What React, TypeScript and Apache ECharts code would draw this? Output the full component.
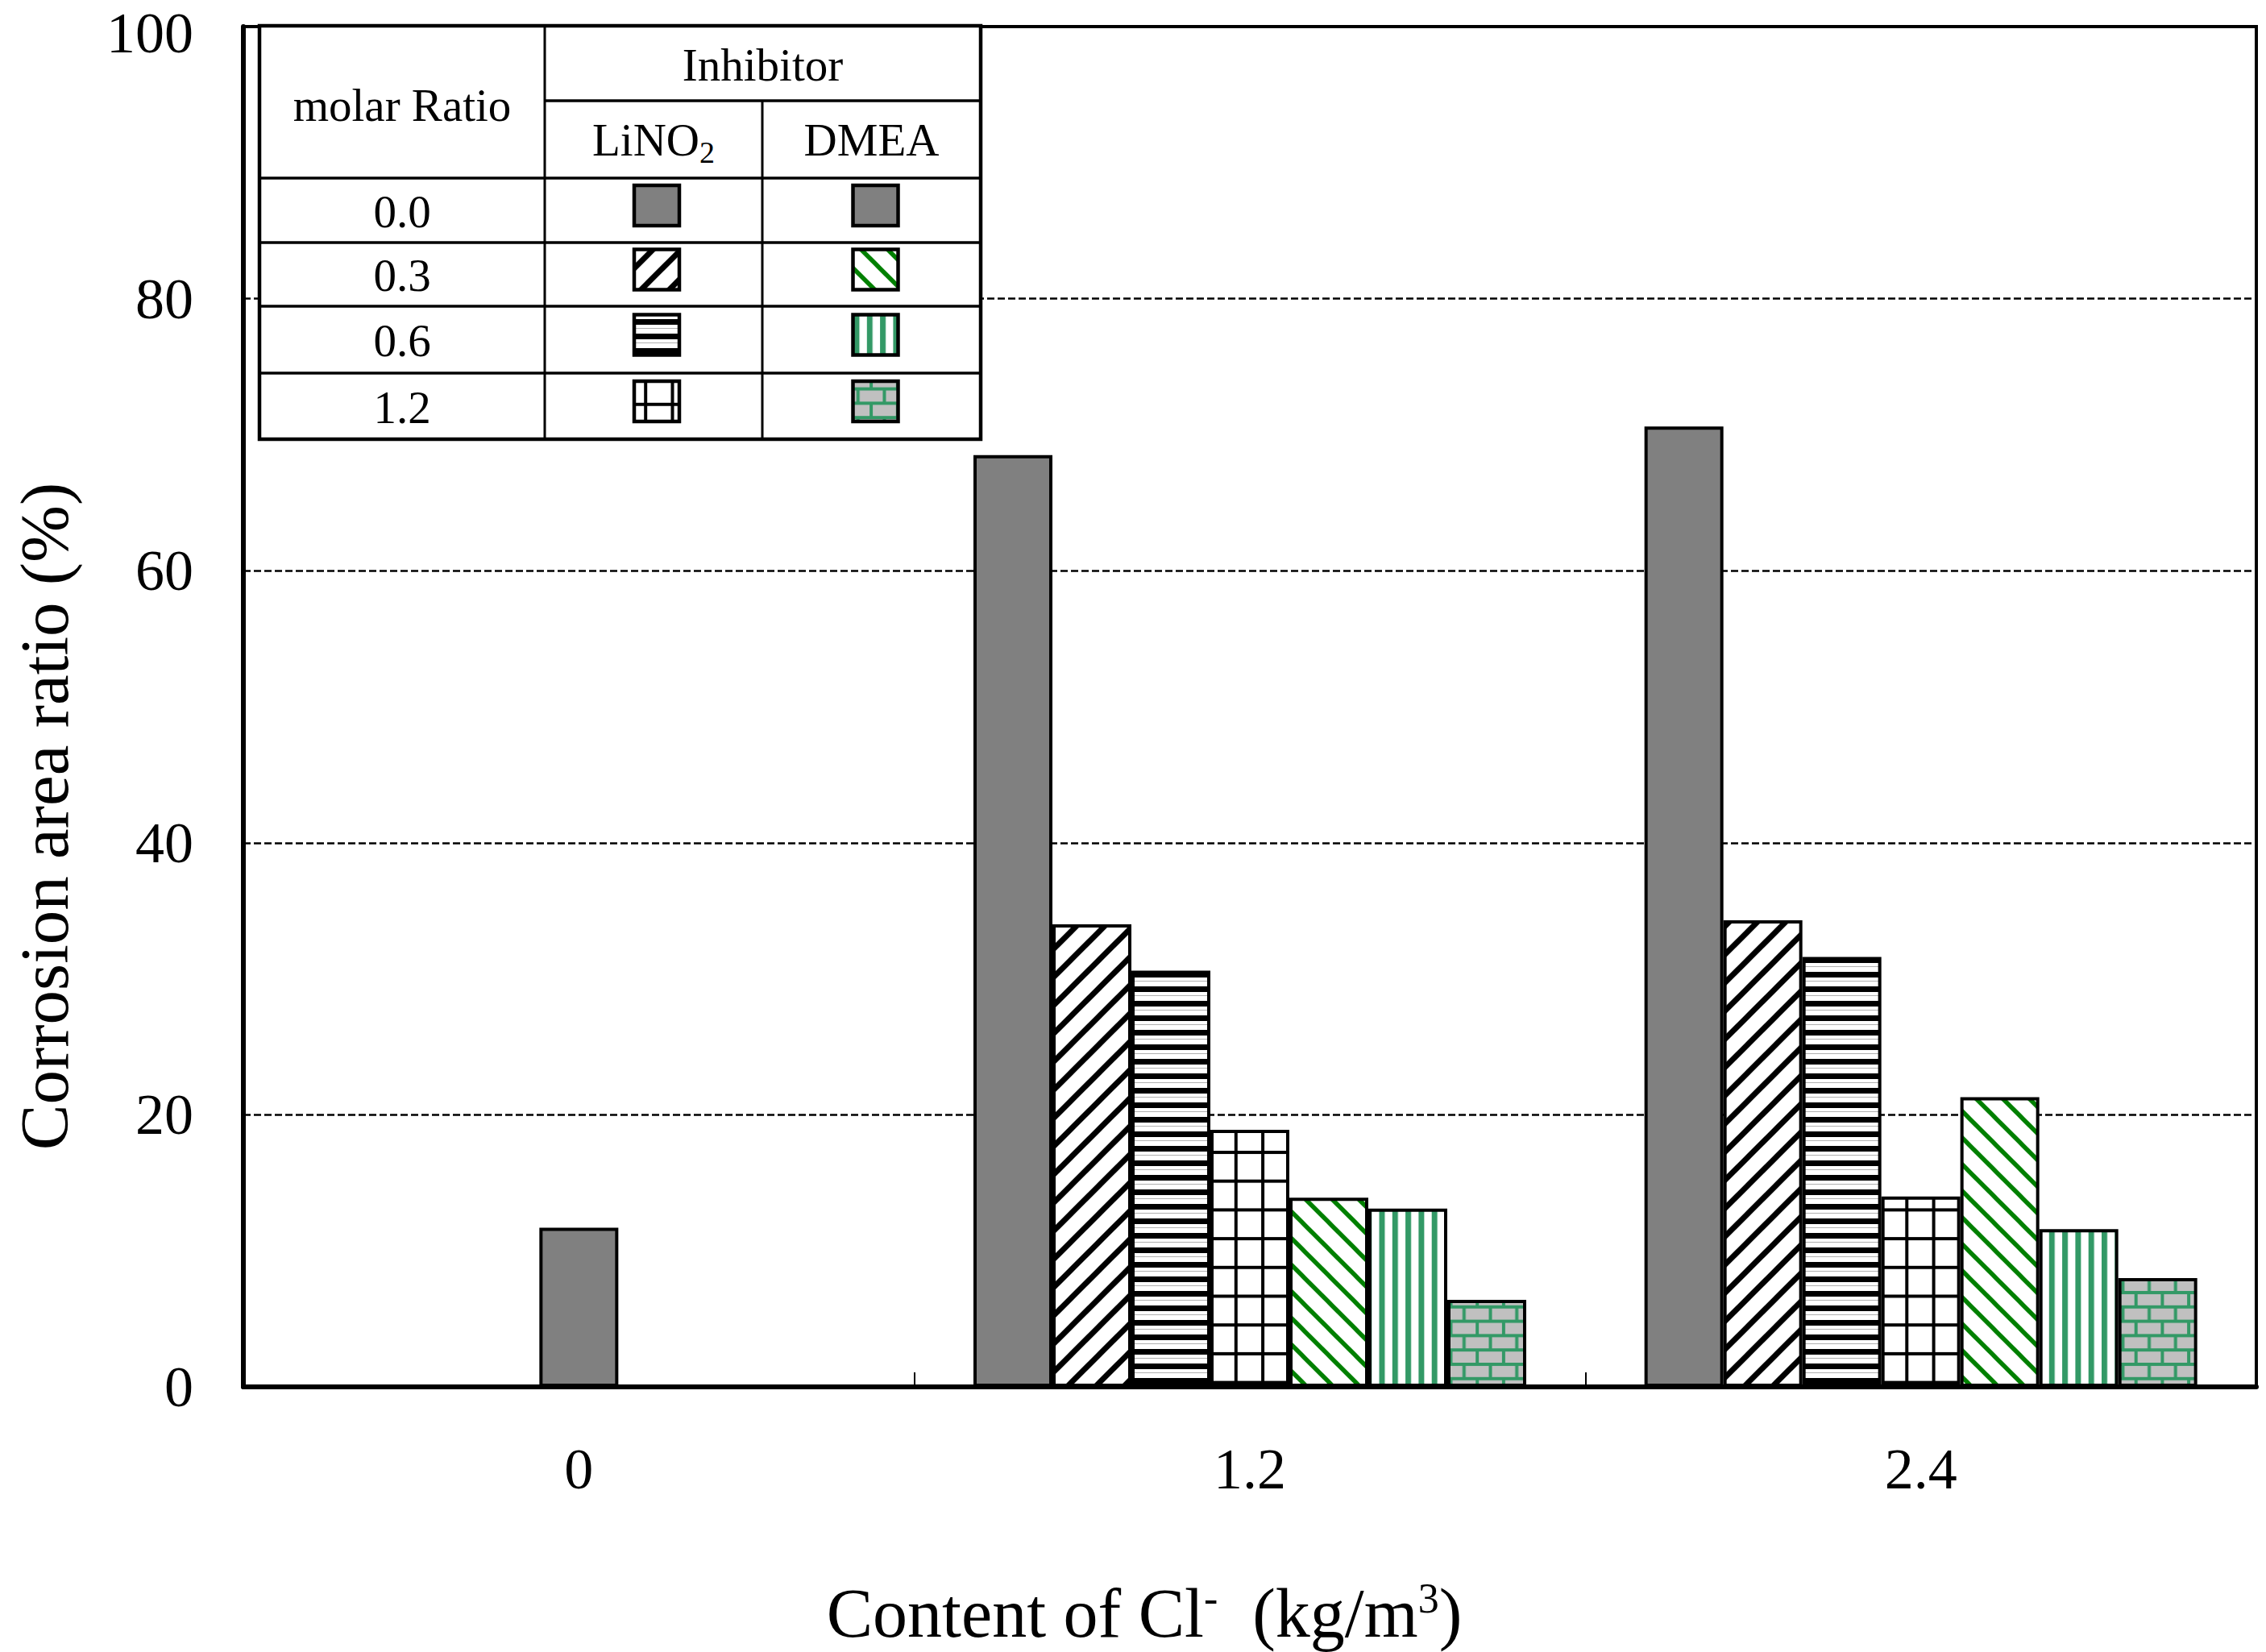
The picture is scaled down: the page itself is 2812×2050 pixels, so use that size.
import React, { useEffect, useRef } from 'react';
import * as echarts from 'echarts';

// ---------------- data ----------------
const categories = ['0', '1.2', '2.4'];
// no inhibitor (molar ratio 0.0)
const noInhibitor = [11.7, 68.5, 70.6];
// LiNO2
const lino2_03 = [null, 34.0, 34.3];
const lino2_06 = [null, 30.6, 31.6];
const lino2_12 = [null, 18.9, 14.0];
// DMEA
const dmea_03 = [null, 13.9, 21.3];
const dmea_06 = [null, 13.1, 11.6];
const dmea_12 = [null, 6.4, 8.0];
const ratioLabels = ['0.0', '0.3', '0.6', '1.2'];
const yMin = 0;
const yMax = 100;
const yInterval = 20;

const FONT = '"Liberation Serif", "Times New Roman", serif';

// ---------------- patterns (svg vnodes) ----------------
let keyN = 0;
const vrect = (x: number, y: number, w: number, h: number, fill: string) => ({
  tag: 'rect', key: 'r' + keyN++, attrs: { x, y, width: w, height: h, fill },
});
const vline = (x1: number, y1: number, x2: number, y2: number, stroke: string, sw: number) => ({
  tag: 'line', key: 'l' + keyN++, attrs: { x1, y1, x2, y2, stroke, 'stroke-width': sw },
});
const makePattern = (w: number, h: number, children: any[]) => ({
  svgElement: { tag: 'g', key: 'g' + keyN++, attrs: {}, children },
  svgWidth: w,
  svgHeight: h,
});

const GRAY = '#808080';
const GREEN = '#008000';
const SEA = '#339966';

const pLino03 = (() => {
  const t = 35;
  return makePattern(t, t, [
    vrect(0, 0, t, t, '#fff'),
    vline(0, t, t, 0, '#000', 7),
    vline(-t / 2, t / 2, t / 2, -t / 2, '#000', 7),
    vline(t / 2, t * 1.5, t * 1.5, t / 2, '#000', 7),
  ]);
})();
const pLino06 = makePattern(18, 18, [
  vrect(0, 0, 18, 18, '#fff'),
  vrect(0, 0, 18, 7, '#000'),
  vrect(0, 11, 18, 1, '#b0b0b0'),
]);
const pLino12 = makePattern(33.3, 35.7, [
  vrect(0, 0, 33.3, 35.7, '#fff'),
  vrect(0, 0, 33.3, 4, '#000'),
  vrect(0, 0, 4, 35.7, '#000'),
]);
const pDmea03 = (() => {
  const t = 33;
  return makePattern(t, t, [
    vrect(0, 0, t, t, '#fff'),
    vline(0, 0, t, t, GREEN, 5.5),
    vline(-t / 2, t / 2, t / 2, t * 1.5, GREEN, 5.5),
    vline(t / 2, -t / 2, t * 1.5, t / 2, GREEN, 5.5),
  ]);
})();
const pDmea06 = makePattern(16.3, 10, [
  vrect(0, 0, 16.3, 10, '#fff'),
  vrect(0, 0, 7, 10, SEA),
]);
const pDmea12 = (() => {
  const w = 32.7, h = 17.8;
  return makePattern(w, h * 2, [
    vrect(0, 0, w, h * 2, '#C0C0C0'),
    vrect(0, 0, w, 4, SEA),
    vrect(0, h, w, 4, SEA),
    vrect(0, 0, 4, h, SEA),
    vrect(w / 2, h, 4, h, SEA),
  ]);
})();

const lino2Fills = [GRAY, pLino03, pLino06, pLino12];
const dmeaFills = [GRAY, pDmea03, pDmea06, pDmea12];

const toData = (arr: (number | null)[]) => arr.map((v) => (v == null ? '-' : v));

// ---------------- component ----------------
export default function App() {
  const ref = useRef<HTMLDivElement>(null);

  useEffect(() => {
    document.body.style.margin = '0';
    document.body.style.overflow = 'hidden';
    if (!ref.current) return;
    const chart = echarts.init(ref.current, null, { renderer: 'svg' });

    const barBase = {
      type: 'bar',
      barWidth: 98,
      barGap: '0%',
      yAxisIndex: 0,
    };
    const border = { borderColor: '#000', borderWidth: 4 };

    const mainSeries = [
      { name: '0.0', data: noInhibitor.map((v, i) => (i === 0 ? '-' : v)), fill: GRAY },
      { name: 'LiNO2 0.3', data: toData(lino2_03), fill: pLino03 },
      { name: 'LiNO2 0.6', data: toData(lino2_06), fill: pLino06 },
      { name: 'LiNO2 1.2', data: toData(lino2_12), fill: pLino12 },
      { name: 'DMEA 0.3', data: toData(dmea_03), fill: pDmea03 },
      { name: 'DMEA 0.6', data: toData(dmea_06), fill: pDmea06 },
      { name: 'DMEA 1.2', data: toData(dmea_12), fill: pDmea12 },
    ].map((s) => ({
      ...barBase,
      name: s.name,
      xAxisIndex: 0,
      data: s.data,
      itemStyle: { color: s.fill, ...border },
    }));

    const zeroSeries = {
      ...barBase,
      name: '0.0 (Cl 0)',
      xAxisIndex: 1,
      data: noInhibitor.map((v, i) => (i === 0 ? v : '-')),
      itemStyle: { color: GRAY, ...border },
    };

    // ---------- table (legend) ----------
    const TL = 322, TR = 1217, TT = 32, TB = 545;
    const C1 = 676, C2 = 946;
    const RH = 125; // line under "Inhibitor"
    const rowLines = [221, 301, 380, 463];
    const rowEdges = [...rowLines, TB];
    const Z = 20;
    const tableEls: any[] = [];
    tableEls.push({
      type: 'rect', z: Z,
      shape: { x: TL, y: TT, width: TR - TL, height: TB - TT },
      style: { fill: '#fff', stroke: '#000', lineWidth: 4.5 },
    });
    tableEls.push({ type: 'line', z: Z, shape: { x1: C1, y1: TT, x2: C1, y2: TB }, style: { stroke: '#000', lineWidth: 3 } });
    tableEls.push({ type: 'line', z: Z, shape: { x1: C2, y1: RH, x2: C2, y2: TB }, style: { stroke: '#000', lineWidth: 3 } });
    tableEls.push({ type: 'line', z: Z, shape: { x1: C1, y1: RH, x2: TR, y2: RH }, style: { stroke: '#000', lineWidth: 3.5 } });
    rowLines.forEach((y) => {
      tableEls.push({ type: 'line', z: Z, shape: { x1: TL, y1: y, x2: TR, y2: y }, style: { stroke: '#000', lineWidth: 3.5 } });
    });
    const txt = (text: string, x: number, y: number, extra: any = {}) => ({
      type: 'text', z: Z + 1, x, y,
      style: {
        text, fill: '#000', fontSize: 57, fontFamily: FONT,
        align: 'center', verticalAlign: 'middle', ...extra,
      },
    });
    tableEls.push(txt('molar Ratio', (TL + C1) / 2, 130));
    tableEls.push(txt('Inhibitor', (C1 + TR) / 2, 80));
    tableEls.push(txt('{n|LiNO}{s|2}', (C1 + C2) / 2, 173, {
      rich: {
        n: { fontSize: 57, fontFamily: FONT, lineHeight: 70, fill: '#000' },
        s: { fontSize: 38, fontFamily: FONT, lineHeight: 30, verticalAlign: 'bottom', fill: '#000' },
      },
    }));
    tableEls.push(txt('DMEA', (C2 + TR) / 2, 173));
    ratioLabels.forEach((lab, i) => {
      const top = rowEdges[i];
      const bot = rowEdges[i + 1];
      const cy = (top + bot) / 2;
      tableEls.push(txt(lab, (TL + C1) / 2, cy + 1));
      const sy = cy - 6;
      [
        { cx: (C1 + C2) / 2 + 4, fill: lino2Fills[i] },
        { cx: (C2 + TR) / 2 + 5, fill: dmeaFills[i] },
      ].forEach((sw) => {
        tableEls.push({
          type: 'rect', z: Z + 1,
          shape: { x: sw.cx - 28, y: sy - 25, width: 56, height: 50 },
          style: { fill: sw.fill, stroke: '#000', lineWidth: 4.5 },
        });
      });
    });

    const option: any = {
      animation: false,
      backgroundColor: '#fff',
      grid: {
        left: 302, right: 12, top: 33, bottom: 329,
        show: true, borderColor: '#000', borderWidth: 4, backgroundColor: 'transparent',
        containLabel: false,
        outerBoundsMode: 'none',
      },
      xAxis: [
        {
          type: 'category',
          data: categories,
          name: 'Content of Cl{sup|-}  (kg/m{sup|3})',
          nameLocation: 'middle',
          nameGap: 236,
          nameTextStyle: {
            fontSize: 86, fontFamily: FONT, color: '#000', lineHeight: 90,
            padding: [0, 262, 0, 0],
            rich: {
              sup: { fontSize: 52, fontFamily: FONT, color: '#000', lineHeight: 44, verticalAlign: 'top' },
            },
          },
          axisLine: { show: true, lineStyle: { color: '#000', width: 6 } },
          axisTick: { show: true, inside: true, length: 18, lineStyle: { color: '#000', width: 2 } },
          axisLabel: { fontSize: 72, fontFamily: FONT, color: '#000', margin: 66 },
          splitLine: { show: false },
        },
        {
          type: 'category',
          data: categories,
          show: false,
        },
      ],
      yAxis: {
        type: 'value',
        min: yMin,
        max: yMax,
        interval: yInterval,
        name: 'Corrosion area ratio (%)',
        nameLocation: 'middle',
        nameGap: 208,
        nameTextStyle: {
          fontSize: 85, fontFamily: FONT, color: '#000', lineHeight: 78,
          padding: [0, 272, 0, 0],
        },
        axisLine: { show: true, lineStyle: { color: '#000', width: 6 } },
        axisTick: { show: false },
        axisLabel: {
          fontSize: 72, fontFamily: FONT, color: '#000', margin: 62, lineHeight: 56,
          formatter: (v: number) => (v === yMax ? '{top|' + v + '}' : String(v)),
          rich: {
            top: { fontSize: 72, fontFamily: FONT, color: '#000', lineHeight: 56, padding: [16, 0, 0, 0] },
          },
        },
        splitLine: { show: true, lineStyle: { color: '#000', width: 2.5, type: [9, 4] } },
      },
      series: [zeroSeries, ...mainSeries],
      graphic: { elements: tableEls },
    };

    chart.setOption(option);
    return () => {
      chart.dispose();
    };
  }, []);

  return <div ref={ref} style={{ width: 2812, height: 2050 }} />;
}
